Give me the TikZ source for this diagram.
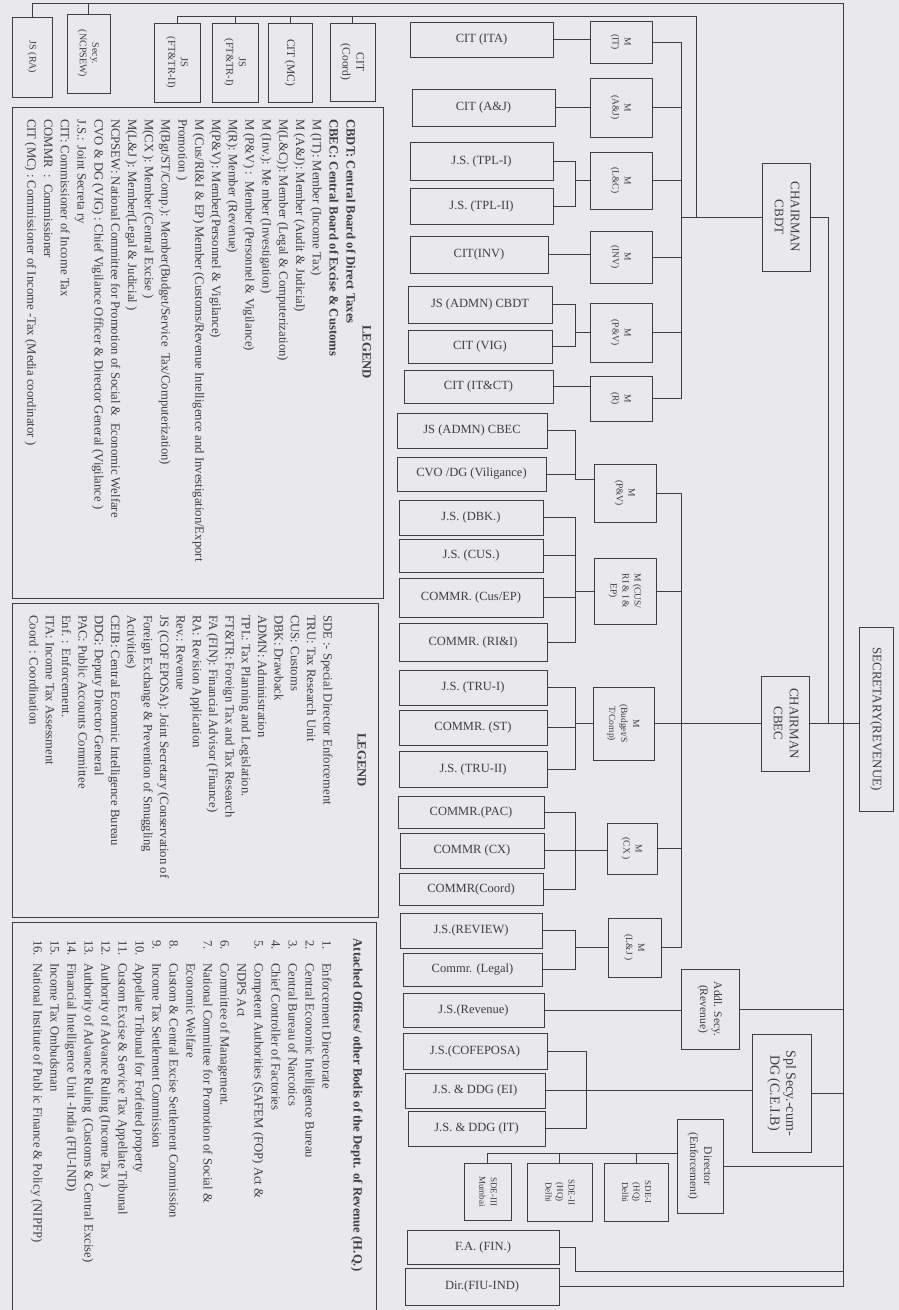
\documentclass[tikz,border=0pt]{standalone}
\usepackage{fontspec}
\setmainfont{Liberation Serif}
\usepackage{graphicx}

\definecolor{paper}{RGB}{233,233,236}
\definecolor{ink}{RGB}{62,62,66}

% vertical (turned) label for the upright boxes
\newcommand{\vlab}[1]{\rotatebox{-90}{\begin{tabular}{@{}c@{}}#1\end{tabular}}}

\tikzset{
  wh/.style 2 args={minimum width=#1pt, minimum height=#2pt},
  postbox/.style={draw=ink, line width=0.9pt, inner sep=0pt, text=ink, font=\fontsize{12.5}{15}\selectfont},
  memberbox/.style={draw=ink, line width=0.9pt, inner sep=0pt, text=ink, font=\fontsize{9.5}{12}\selectfont},
  officebox/.style={draw=ink, line width=0.9pt, inner sep=0pt, text=ink, font=\fontsize{11.5}{14}\selectfont},
  chiefbox/.style={draw=ink, line width=0.9pt, inner sep=0pt, text=ink, font=\fontsize{13}{16}\selectfont},
  wire/.style={draw=ink, line width=0.8pt},
  legtext/.style={rotate=-90, anchor=base west, inner sep=0pt, text=ink, font=\fontsize{12.7}{15}\selectfont}
}

\begin{document}
\begin{tikzpicture}[x=1pt,y=-1pt]
    \fill[paper] (0,0) rectangle (899,1310);
    \useasboundingbox (0,0) rectangle (899,1310);

    % Secretary and the two boards
    \node[chiefbox, wh={34}{184}] (secrev) at (876,719) {\vlab{SECRETARY(REVENUE)}};
    \node[chiefbox, wh={48}{108}] (cbdt) at (786,217) {\vlab{CHAIRMAN\\CBDT}};
    \node[chiefbox, wh={48}{95}] (cbec) at (785,723.5) {\vlab{CHAIRMAN\\CBEC}};

    % Offices under the secretary
    \node[officebox, font=\fontsize{10}{12.5}\selectfont, wh={40}{80}] (jsra) at (32,57) {\vlab{JS (RA)}};
    \node[officebox, font=\fontsize{10}{12.5}\selectfont, wh={43}{79}] (secyncp) at (88.5,53.5) {\vlab{Secy.\\(NCPSEW)}};
    \node[officebox, wh={58}{80}] (addl) at (710,1009) {\vlab{Addl. Secy.\\(Revenue)}};
    \node[chiefbox, font=\fontsize{14}{16}\selectfont, wh={59}{118}] (spl) at (781.5,1093) {\vlab{Spl Secy.-cum-\\DG (C.E.I.B)}};
    \node[officebox, wh={46}{94}] (director) at (700,1166) {\vlab{Director\\(Enforcement)}};
    \node[memberbox, font=\fontsize{9}{11.5}\selectfont, wh={64}{58}] (sde1) at (636,1192) {\vlab{SDE-I\\(HQ)\\Delhi}};
    \node[memberbox, font=\fontsize{9}{11.5}\selectfont, wh={65}{58}] (sde2) at (559.5,1192) {\vlab{SDE-II\\(HQ)\\Delhi}};
    \node[memberbox, font=\fontsize{9}{11.5}\selectfont, wh={47}{57}] (sde3) at (487.5,1191.5) {\vlab{SDE-III\\Mumbai}};

    % Offices under Chairman CBDT
    \node[officebox, font=\fontsize{10.5}{12.5}\selectfont, wh={46}{79}] (jsft2) at (177,62.5) {\vlab{JS\\(FT\&TR-II)}};
    \node[officebox, font=\fontsize{10.5}{12.5}\selectfont, wh={46}{79}] (jsft1) at (235,62.5) {\vlab{JS\\(FT\&TR-I)}};
    \node[officebox, wh={44}{79}] (citmc) at (290,62.5) {\vlab{CIT (MC)}};
    \node[officebox, wh={45}{78}] (citcoord) at (352.5,62) {\vlab{CIT\\(Coord)}};

    % Members - CBDT
    \node[memberbox, wh={62}{42}] (mit) at (621,42) {\vlab{M\\(IT)}};
    \node[memberbox, wh={62}{59}] (maj) at (621,107.5) {\vlab{M\\(A\&J)}};
    \node[memberbox, wh={62}{57}] (mlc) at (621,180.5) {\vlab{M\\(L\&C)}};
    \node[memberbox, wh={62}{52}] (minv) at (621,257) {\vlab{M\\(INV)}};
    \node[memberbox, wh={62}{59}] (mpv) at (621,332.5) {\vlab{M\\(P\&V)}};
    \node[memberbox, wh={62}{45}] (mr) at (621,398.5) {\vlab{M\\(R)}};

    % Members - CBEC
    \node[memberbox, wh={62}{58}] (mpvc) at (625,493) {\vlab{M\\(P\&V)}};
    \node[memberbox, wh={62}{66}] (mcus) at (625,591) {\vlab{M (CUS/\\RI \& I \&\\EP)}};
    \node[memberbox, wh={61}{73}] (mbst) at (623.5,723.5) {\vlab{M\\(Budget/S\\T/Comp)}};
    \node[memberbox, wh={50}{51}] (mcx) at (632,848.5) {\vlab{M\\(CX )}};
    \node[memberbox, wh={53}{59}] (mlj) at (634.5,947.5) {\vlab{M\\(L\&J )}};

    % Posts - CBDT
    \node[postbox, wh={143}{35}] (citita) at (481.5,39.5) {CIT (ITA)};
    \node[postbox, wh={143}{37}] (citaj) at (483.5,107.5) {CIT (A\&J)};
    \node[postbox, wh={143}{38}] (jstpl1) at (481.5,161) {J.S. (TPL-I)};
    \node[postbox, wh={143}{36}] (jstpl2) at (481.5,206) {J.S. (TPL-II)};
    \node[postbox, wh={138}{37}] (citinv) at (479,254.5) {CIT(INV)};
    \node[postbox, wh={144}{37}] (jsadmnbdt) at (480,304.5) {JS (ADMN) CBDT};
    \node[postbox, wh={144}{33}] (citvig) at (480,346.5) {CIT (VIG)};
    \node[postbox, wh={149}{33}] (cititct) at (478.5,386.5) {CIT (IT\&CT)};

    % Posts - CBEC
    \node[postbox, wh={150}{35}] (jsadmnbec) at (472,430.5) {JS (ADMN) CBEC};
    \node[postbox, wh={149}{34}] (cvodg) at (471.5,474) {CVO /DG (Viligance)};
    \node[postbox, wh={144}{35}] (jsdbk) at (471,517.5) {J.S. (DBK.)};
    \node[postbox, wh={144}{33}] (jscus) at (471,555.5) {J.S. (CUS.)};
    \node[postbox, wh={144}{39}] (commrcus) at (471,597.5) {COMMR. (Cus/EP)};
    \node[postbox, wh={148}{38}] (commrrii) at (473,642) {COMMR. (RI\&I)};
    \node[postbox, wh={148}{35}] (jstru1) at (473,687.5) {J.S. (TRU-I)};
    \node[postbox, wh={148}{35}] (commrst) at (473,727.5) {COMMR. (ST)};
    \node[postbox, wh={148}{36}] (jstru2) at (473,769) {J.S. (TRU-II)};
    \node[postbox, wh={146}{32}] (commrpac) at (471,812) {COMMR.(PAC)};
    \node[postbox, wh={144}{35}] (commrcx) at (472,850.5) {COMMR (CX)};
    \node[postbox, wh={144}{32}] (commrcoord) at (471,889) {COMMR(Coord)};
    \node[postbox, wh={142}{35}] (jsreview) at (471,930.5) {J.S.(REVIEW)};
    \node[postbox, wh={139}{33}] (commrlegal) at (472.5,969.5) {Commr. (Legal)};

    % Posts - secretary side
    \node[postbox, wh={141}{34}] (jsrevenue) at (473.5,1010) {J.S.(Revenue)};
    \node[postbox, wh={144}{36}] (jscofeposa) at (475,1051) {J.S.(COFEPOSA)};
    \node[postbox, wh={140}{35}] (jsddgei) at (475,1090.5) {J.S. \& DDG (EI)};
    \node[postbox, wh={137}{35}] (jsddgit) at (476.5,1128.5) {J.S. \& DDG (IT)};
    \node[postbox, wh={152}{34}] (fafin) at (483,1247) {F.A. (FIN.)};
    \node[postbox, wh={154}{37}] (dirfiu) at (482,1286.5) {Dir.(FIU-IND)};

    % Guide lines
    \coordinate (outer) at (843,3);
    \coordinate (boardline) at (696,16);
    \coordinate (busb) at (681,0);
    \coordinate (brk) at (575,0);
    \coordinate (brkc) at (586,0);
    \coordinate (cbdtdrop) at (828,0);
    \coordinate (fabend) at (575,1271);
    \coordinate (sdebar) at ([yshift=13pt]director.west);

    % Secretary lines
    \draw[wire] (cbec.east) -- (cbec.east -| secrev.west);
    \draw[wire] (cbdt.east) -| (cbdtdrop |- cbec.east);
    \draw[wire] (jsra.north) |- (outer) -- (outer |- dirfiu.east) -- (dirfiu.east);
    \draw[wire] (secyncp.north) -- (secyncp.north |- outer);
    \foreach \o in {addl,spl,director}
        \draw[wire] (\o.east) -- (\o.east -| outer);
    \draw[wire] (fafin.east) -| (fabend) -- (fabend -| outer);

    % Chairman CBDT lines
    \draw[wire] (jsft2.north) |- (boardline) |- (cbdt.west);
    \foreach \o in {jsft1,citmc,citcoord}
        \draw[wire] (\o.north) -- (\o.north |- boardline);
    \draw[wire] (cbdt.west) -- (cbdt.west -| busb);
    \draw[wire] (mit.east -| busb) -- (mr.east -| busb);
    \foreach \m in {mit,maj,mlc,minv,mpv,mr}
        \draw[wire] (\m.east) -- (\m.east -| busb);

    % Chairman CBEC lines
    \draw[wire] (cbec.west) -- (cbec.west -| busb);
    \draw[wire] (mpvc.east -| busb) -- (mlj.east -| busb);
    \foreach \m in {mpvc,mcus,mbst,mcx,mlj}
        \draw[wire] (\m.east) -- (\m.east -| busb);

    % Posts to members
    \foreach \p/\m in {citita/mit,citaj/maj,citinv/minv,cititct/mr,commrcx/mcx}
        \draw[wire] (\p.east) -- (\p.east -| \m.west);
    \foreach \a/\b/\m in {jstpl1/jstpl2/mlc,jsadmnbdt/citvig/mpv,jsdbk/commrrii/mcus,jstru1/jstru2/mbst,jsreview/commrlegal/mlj} {
        \draw[wire] (\a.east) -| (\b.east -| brk) -- (\b.east);
        \draw[wire] (\m.west) -- (\m.west -| brk);
    }
    \foreach \p in {jscus,commrcus,commrst}
        \draw[wire] (\p.east) -- (\p.east -| brk);
    \draw[wire] (commrpac.east) -| (commrcoord.east -| brk) -- (commrcoord.east);
    \draw[wire] (jsadmnbec.east) -| ([yshift=14pt]mpvc.west -| brk) -- ([yshift=14pt]mpvc.west);
    \draw[wire] (cvodg.east) -- (cvodg.east -| brk);

    % Posts to Addl. Secy., Spl Secy. and Director
    \draw[wire] (jsrevenue.east) -- (jsrevenue.east -| addl.west);
    \draw[wire] (jsddgei.east) -- (jsddgei.east -| spl.west);
    \draw[wire] (jscofeposa.east) -| (jsddgit.east -| brkc) -- (jsddgit.east);
    \draw[wire] (sde3.north) |- (sdebar);
    \foreach \s in {sde2,sde1}
        \draw[wire] (\s.north) -- (\s.north |- sdebar);

    % Legend boxes
    \draw[wire] (12,107) rectangle (383,598);
    \draw[wire] (12,603) rectangle (378,917);
    \draw[wire] (12,1320) |- (376,922) -- (376,1320);

    % Legend 1
    \node[legtext, anchor=base, font=\bfseries\fontsize{12.7}{15}\selectfont] (leg1) at (362.5,352) {LEGEND};
    \foreach \txt [count=\i from 0] in {
        \textbf{CBDT: Central Board of Direct Taxes},
        \textbf{CBEC: Central Board of Excise \& Customs},
        M (IT): Member (Income Tax),
        M (A\&J): Member (Audit \& Judicial),
        M(L\&C)): Member (Legal \& Computerization),
        M (Inv.): Me mber (Investigation),
        M (P\&V) :\ \ Member (Personnel \& Vigilance),
        M(R): Member (Revenue),
        M(P\&V): Member(Personnel \& Vigilance),
        M (Cus/RI\&I \& EP) Member (Customs/Revenue Intelligence and Investigation/Export,
        Promotion ),
        M(Bgt/ST/Comp.): Member(Budget/Service\ \ Tax/Computerization),
        M(CX ): Member (Central Excise ),
        M(L\&J ): Member(Legal \& Judicial ),
        NCPSEW: National Committee for Promotion of Social \&\ \ Economic Welfare,
        CVO \& DG (VIG) : Chief Vigilance Officer \& Director General (Vigilance ),
        J.S.: Joint Secreta ry,
        CIT: Commissioner of Income Tax,
        COMMR\ \ :\ \ Commissioner,
        CIT (MC) : Commissioner of Income -Tax (Media coordinator )}
        \node[legtext] at ({346.5-16.8*\i},119) {\txt};

    % Legend 2
    \node[legtext, anchor=base, font=\bfseries\fontsize{12.7}{15}\selectfont] (leg2) at (357.5,760) {LEGEND};
    \foreach \txt [count=\i from 0] in {
        SDE :- Special Director Enforcement,
        TRU: Tax Research Unit,
        CUS: Customs,
        DBK: Drawback,
        ADMN: Administration,
        TPL: Tax Planning and Legislation.,
        FT\&TR: Foreign Tax and Tax Research,
        FA (FIN): Financial Advisor (Finance),
        RA: Revision Application,
        Rev.: Revenue,
        JS (COF EPOSA): Joint Secretary (Conservation of,
        Foreign Exchange \& Prevention of Smuggling,
        Activities),
        CEIB: Central Economic Intelligence Bureau,
        DDG: Deputy Director General,
        PAC: Public Accounts Committee,
        Enf. : Enforcement.,
        ITA: Income Tax Assessment,
        Coord : Coordination}
        \node[legtext] at ({323.5-16.33*\i},615) {\txt};

    % Legend 3
    \node[legtext, anchor=base, font=\bfseries\fontsize{12.7}{15}\selectfont] (leg3) at (353.5,1105) {Attached Offices/ other Bodis of the Deptt. of Revenue (H.Q.)};
    \foreach \num/\txt [count=\i from 0] in {
        1./Enforcement Directorate,
        2./Central Economic Intelligence Bureau,
        3./Central Bureau of Narcotics,
        4./Chief Controller of Factories,
        5./Competent Authorities (SAFEM (FOP) Act \&,
        {}/NDPS Act,
        6./Committee of Management.,
        7./National Committee for Promotion of Social \&,
        {}/Economic Welfare,
        8./Custom \& Central Excise Settlement Commission,
        9./Income Tax Settlement Commission,
        10./Appellate Tribunal for Forfeited property,
        11./Custom Excise \& Service Tax Appellate Tribunal,
        12./Authority of Advance Ruling (Income Tax ),
        13./Authority of Advance Ruling\ \ (Customs \& Central Excise),
        14./Financial Intelligence Unit -India (FIU-IND),
        15./Income Tax Ombudsman,
        16./National Institute of Publ ic Finance \& Policy (NIPFP)} {
        \node[legtext] at ({322.5-17*\i},940) {\num};
        \node[legtext] at ({322.5-17*\i},963) {\txt};
    }
\end{tikzpicture}
\end{document}
